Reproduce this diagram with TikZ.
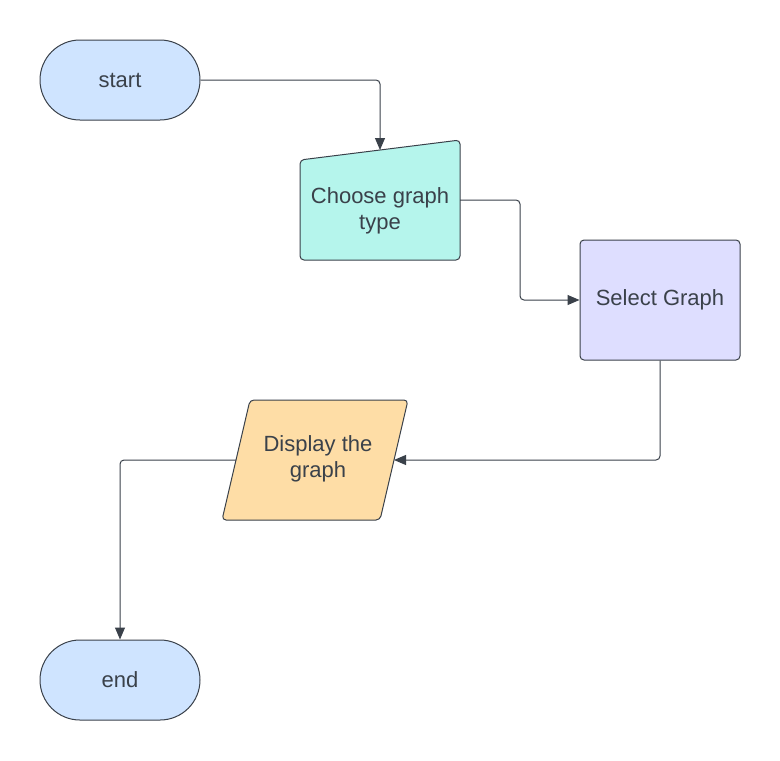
\documentclass[tikz,border=0pt]{standalone}
\usepackage{fontspec}
\setmainfont{Liberation Sans}
\usetikzlibrary{arrows.meta}
\definecolor{termblue}{HTML}{CFE4FF}
\definecolor{choosegreen}{HTML}{B5F5EC}
\definecolor{selectblue}{HTML}{DEDEFF}
\definecolor{dispyellow}{HTML}{FEDDA6}
\definecolor{edgegray}{HTML}{3A414A}
\begin{document}
\begin{tikzpicture}[
        x=0.5pt, y=-0.5pt,
        every node/.style={font=\fontsize{11}{13}\selectfont, text=edgegray, align=center},
        boxline/.style={draw=edgegray, line width=0.5pt, rounded corners=2pt},
        terminal/.style={boxline, fill=termblue, minimum width=80pt, minimum height=40pt, rounded corners=20pt},
        process/.style={boxline, fill=selectblue, minimum width=80pt, minimum height=60pt},
        line/.style={draw=edgegray, line width=0.5pt, rounded corners=2pt, -{Triangle[length=6pt,width=5pt]}}
    ]
    \useasboundingbox[fill=white] (0,0) rectangle (780,760);
    % terminals and process
    \node[terminal] (start) at (120,80) {start};
    \node[terminal] (end) at (120,680) {end};
    \node[process] (select) at (660,300) {Select Graph};
    % manual input
    \filldraw[boxline, fill=choosegreen] (300,160) -- (460,140) -- (460,260) -- (300,260) -- cycle;
    \node (choose) at (380,211) {Choose graph\\type};
    \coordinate (choose in) at (380,150);
    \coordinate (choose out) at (460,200);
    % data
    \filldraw[boxline, fill=dispyellow] (250,400) -- (408,400) -- (380,520) -- (222,520) -- cycle;
    \node (disp) at (318,459) {Display the\\graph};
    \coordinate (disp in) at (394,460);
    \coordinate (disp out) at (236,460);
    % connectors
    \draw[line] (start.east) -| (choose in);
    \draw[line] (choose out) -- ++(60,0) |- (select.west);
    \draw[line] (select.south) |- (disp in);
    \draw[line] (disp out) -| (end.north);
\end{tikzpicture}
\end{document}
